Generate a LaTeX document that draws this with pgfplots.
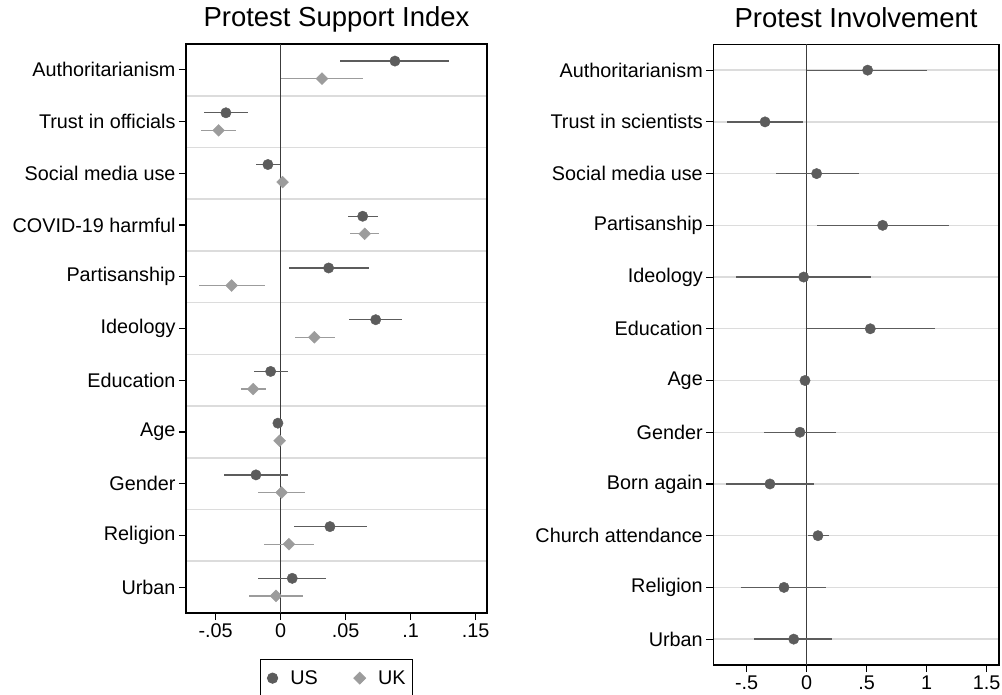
\documentclass[border=0pt]{standalone}
\usepackage{pgfplots}
\pgfplotsset{compat=1.18}
\usepackage{pgfplotstable}
\usepackage{fontspec}
\setmainfont{Liberation Sans}
\definecolor{usc}{RGB}{92,92,92}
\definecolor{ukc}{RGB}{156,156,156}
\definecolor{gridc}{RGB}{220,220,220}
\definecolor{zeroc}{RGB}{60,60,60}

\pgfplotstableread{
pos est lo hi
0.83 0.0879 0.0459 0.1297
1.83 -0.0421 -0.0590 -0.0254
2.83 -0.0098 -0.0188 -0.0005
3.83 0.0631 0.0520 0.0746
4.83 0.0369 0.0062 0.0677
5.83 0.0731 0.0525 0.0935
6.83 -0.0077 -0.0203 0.0054
7.83 -0.0021 -0.0030 -0.0012
8.83 -0.0190 -0.0434 0.0054
9.83 0.0379 0.0102 0.0662
10.83 0.0089 -0.0172 0.0351
}\usdata

\pgfplotstableread{
pos est lo hi
1.17 0.0318 0.0002 0.0631
2.17 -0.0477 -0.0613 -0.0341
3.17 0.0015 0.0005 0.0025
4.17 0.0646 0.0535 0.0756
5.17 -0.0377 -0.0626 -0.0121
6.17 0.0259 0.0112 0.0415
7.17 -0.0211 -0.0308 -0.0111
8.17 -0.0008 -0.0016 0.0000
9.17 0.0008 -0.0172 0.0185
10.17 0.0064 -0.0126 0.0256
11.17 -0.0036 -0.0246 0.0174
}\ukdata

\pgfplotstableread{
pos est lo hi
1 0.508 0.000 1.000
2 -0.347 -0.667 -0.033
3 0.083 -0.258 0.433
4 0.633 0.083 1.190
5 -0.025 -0.587 0.533
6 0.530 0.000 1.067
7 -0.014 -0.030 0.000
8 -0.056 -0.356 0.244
9 -0.306 -0.670 0.064
10 0.094 0.010 0.189
11 -0.189 -0.547 0.161
12 -0.108 -0.436 0.214
}\invdata

\pgfplotsset{
  coefstyle/.style={
    scale only axis,
    anchor=south west,
    y dir=reverse,
    tick align=outside,
    xtick pos=bottom, ytick pos=left,
    major tick length=7pt,
    minor tick length=0pt,
    axis line style={black, line width=1.1pt},
    major tick style={black, line width=1.1pt},
    tick label style={font=\fontsize{19.8}{23}\selectfont},
    title style={font=\fontsize{27.5}{32}\selectfont, at={(0.5,1)}, anchor=base, yshift=11pt},
  },
}

\begin{document}
\begin{tikzpicture}[x=1pt,y=1pt]
\path[use as bounding box] (0,0) rectangle (1002,695);

\begin{axis}[coefstyle,
  at={(186pt,82pt)}, width=301pt, height=569pt,
  xmin=-0.0728, xmax=0.1587, ymin=0.5, ymax=11.5,
  title={Protest Support Index},
  ytick={1,...,11},
  yticklabels={Authoritarianism,Trust in officials,Social media use,COVID-19 harmful,Partisanship,Ideology,Education,Age,Gender,Religion,Urban},
  minor ytick={1.5,2.5,...,10.5},
  yminorgrids,
  minor grid style={gridc, line width=1.6pt},
  xtick={-0.05,0,0.05,0.1,0.15},
  xticklabels={-.05,0,.05,.1,.15},
  legend style={at={(0.5,-0.081)}, anchor=north, legend columns=2, draw=black, line width=0.8pt,
    font=\fontsize{19.8}{23}\selectfont, inner xsep=7pt, inner ysep=8pt,
    nodes={inner xsep=0pt, inner ysep=3pt},
    /tikz/every odd column/.append style={column sep=12.5pt},
    /tikz/every even column/.append style={column sep=36pt}},
  legend cell align=left,
]
\addplot[zeroc, line width=1.4pt, forget plot] coordinates {(0,0.5) (0,11.5)};
\addplot[only marks, mark=*, mark size=5.2pt, color=usc,
  error bars/.cd, x dir=both, x explicit, error mark=none,
  error bar style={line width=1.3pt, usc}]
  table[x=est, y=pos, x error plus expr=\thisrow{hi}-\thisrow{est}, x error minus expr=\thisrow{est}-\thisrow{lo}] {\usdata};
\addplot[only marks, mark=square*, mark size=4.2pt, mark options={rotate=45}, color=ukc,
  error bars/.cd, x dir=both, x explicit, error mark=none,
  error bar style={line width=1.3pt, ukc}]
  table[x=est, y=pos, x error plus expr=\thisrow{hi}-\thisrow{est}, x error minus expr=\thisrow{est}-\thisrow{lo}] {\ukdata};
\legend{US,UK}
\end{axis}

\begin{axis}[coefstyle,
  at={(713.3pt,30pt)}, width=285.7pt, height=620.7pt,
  xmin=-0.778, xmax=1.6025, ymin=0.5, ymax=12.5,
  title={Protest Involvement},
  ytick={1,...,12},
  yticklabels={Authoritarianism,Trust in scientists,Social media use,Partisanship,Ideology,Education,Age,Gender,Born again,Church attendance,Religion,Urban},
  ymajorgrids,
  major grid style={gridc, line width=1.4pt},
  xtick={-0.5,0,0.5,1,1.5},
  xticklabels={-.5,0,.5,1,1.5},
]
\addplot[zeroc, line width=1.4pt, forget plot] coordinates {(0,0.5) (0,12.5)};
\addplot[only marks, mark=*, mark size=5.2pt, color=usc,
  error bars/.cd, x dir=both, x explicit, error mark=none,
  error bar style={line width=1.3pt, usc}]
  table[x=est, y=pos, x error plus expr=\thisrow{hi}-\thisrow{est}, x error minus expr=\thisrow{est}-\thisrow{lo}] {\invdata};
\end{axis}
\end{tikzpicture}
\end{document}
